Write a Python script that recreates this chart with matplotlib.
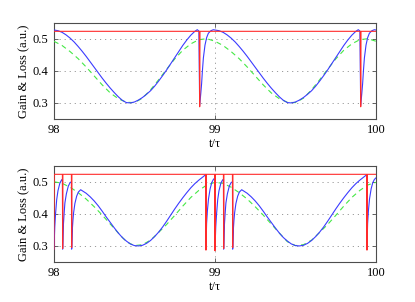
import matplotlib
matplotlib.use("Agg")
import matplotlib.pyplot as plt

plt.rcParams['font.family'] = ['Liberation Serif', 'DejaVu Serif']

# ---------------- data: top panel ----------------
top_gain_t = [98.000, 98.025, 98.050, 98.075, 98.100, 98.125, 98.150, 98.175, 98.200, 98.225,
              98.250, 98.275, 98.300, 98.325, 98.350, 98.375, 98.400, 98.425, 98.450, 98.475,
              98.500, 98.525, 98.550, 98.575, 98.600, 98.625, 98.650, 98.675, 98.700, 98.725,
              98.750, 98.775, 98.800, 98.825, 98.850, 98.875, 98.890, 98.900, 98.905, 98.912,
              98.917, 98.922, 98.928, 98.938, 98.948, 98.959, 98.975, 98.990,
              99.000, 99.025, 99.050, 99.075, 99.100, 99.125, 99.150, 99.175, 99.200, 99.225,
              99.250, 99.275, 99.300, 99.325, 99.350, 99.375, 99.400, 99.425, 99.450, 99.475,
              99.500, 99.525, 99.550, 99.575, 99.600, 99.625, 99.650, 99.675, 99.700, 99.725,
              99.750, 99.775, 99.800, 99.825, 99.850, 99.875, 99.890, 99.900, 99.905, 99.912,
              99.917, 99.922, 99.928, 99.938, 99.948, 99.959, 99.975, 99.990, 100.000]
top_gain = [0.527, 0.525, 0.520, 0.512, 0.502, 0.490, 0.476, 0.461, 0.445, 0.428,
            0.411, 0.394, 0.377, 0.361, 0.346, 0.332, 0.319, 0.308, 0.301, 0.300,
            0.303, 0.309, 0.317, 0.327, 0.338, 0.352, 0.368, 0.385, 0.403, 0.422,
            0.441, 0.460, 0.479, 0.496, 0.511, 0.523, 0.528, 0.524, 0.292, 0.330,
            0.360, 0.400, 0.440, 0.480, 0.503, 0.517, 0.525, 0.528,
            0.527, 0.525, 0.520, 0.512, 0.502, 0.490, 0.476, 0.461, 0.445, 0.428,
            0.411, 0.394, 0.377, 0.361, 0.346, 0.332, 0.319, 0.308, 0.301, 0.300,
            0.303, 0.309, 0.317, 0.327, 0.338, 0.352, 0.368, 0.385, 0.403, 0.422,
            0.441, 0.460, 0.479, 0.496, 0.511, 0.523, 0.528, 0.524, 0.292, 0.330,
            0.360, 0.400, 0.440, 0.480, 0.503, 0.517, 0.525, 0.528, 0.527]

top_loss_t = [98.00, 98.05, 98.10, 98.15, 98.20, 98.25, 98.30, 98.35, 98.40, 98.45,
              98.50, 98.55, 98.60, 98.65, 98.70, 98.75, 98.80, 98.85, 98.90, 98.95,
              99.00, 99.05, 99.10, 99.15, 99.20, 99.25, 99.30, 99.35, 99.40, 99.45,
              99.50, 99.55, 99.60, 99.65, 99.70, 99.75, 99.80, 99.85, 99.90, 99.95, 100.00]
top_loss = [0.492, 0.479, 0.460, 0.438, 0.412, 0.384, 0.356, 0.331, 0.313, 0.302,
            0.301, 0.315, 0.341, 0.372, 0.405, 0.437, 0.464, 0.484, 0.497, 0.500,
            0.492, 0.479, 0.460, 0.438, 0.412, 0.384, 0.356, 0.331, 0.313, 0.302,
            0.301, 0.315, 0.341, 0.372, 0.405, 0.437, 0.464, 0.484, 0.497, 0.500, 0.492]

top_pulse_t = [98.000, 98.903, 98.905, 98.907, 99.903, 99.905, 99.907, 100.000]
top_pulse = [0.523, 0.523, 0.288, 0.523, 0.523, 0.288, 0.523, 0.523]

# ---------------- data: bottom panel ----------------
bot_gain_t = [98.000, 98.005, 98.010, 98.017, 98.025, 98.037, 98.047, 98.053, 98.054, 98.058,
              98.063, 98.068, 98.077, 98.089, 98.100, 98.109, 98.110, 98.114, 98.118, 98.122,
              98.130, 98.141, 98.152, 98.166, 98.182, 98.200, 98.225, 98.250, 98.275, 98.300,
              98.325, 98.350, 98.375, 98.400, 98.425, 98.450, 98.475, 98.500, 98.525, 98.550,
              98.575, 98.600, 98.625, 98.650, 98.675, 98.700, 98.725, 98.750, 98.775, 98.800,
              98.825, 98.850, 98.875, 98.900, 98.925, 98.943, 98.944, 98.948, 98.953, 98.960,
              98.970, 98.980, 98.990, 98.998,
              99.000, 99.005, 99.010, 99.017, 99.025, 99.037, 99.047, 99.053, 99.054, 99.058,
              99.063, 99.068, 99.077, 99.089, 99.100, 99.109, 99.110, 99.114, 99.118, 99.122,
              99.130, 99.141, 99.152, 99.166, 99.182, 99.200, 99.225, 99.250, 99.275, 99.300,
              99.325, 99.350, 99.375, 99.400, 99.425, 99.450, 99.475, 99.500, 99.525, 99.550,
              99.575, 99.600, 99.625, 99.650, 99.675, 99.700, 99.725, 99.750, 99.775, 99.800,
              99.825, 99.850, 99.875, 99.900, 99.925, 99.943, 99.944, 99.948, 99.953, 99.960,
              99.970, 99.980, 99.990, 100.000]
bot_gain = [0.290, 0.360, 0.400, 0.444, 0.472, 0.496, 0.505, 0.508, 0.290, 0.360,
            0.400, 0.434, 0.462, 0.486, 0.497, 0.500, 0.290, 0.350, 0.380, 0.403,
            0.432, 0.455, 0.468, 0.475, 0.470, 0.464, 0.453, 0.440, 0.425, 0.408,
            0.390, 0.373, 0.356, 0.340, 0.326, 0.315, 0.306, 0.301, 0.300, 0.302,
            0.308, 0.317, 0.329, 0.343, 0.359, 0.377, 0.396, 0.415, 0.433, 0.450,
            0.466, 0.481, 0.494, 0.505, 0.515, 0.522, 0.290, 0.370, 0.410, 0.447,
            0.478, 0.497, 0.507, 0.511,
            0.290, 0.360, 0.400, 0.444, 0.472, 0.496, 0.505, 0.508, 0.290, 0.360,
            0.400, 0.434, 0.462, 0.486, 0.497, 0.500, 0.290, 0.350, 0.380, 0.403,
            0.432, 0.455, 0.468, 0.475, 0.470, 0.464, 0.453, 0.440, 0.425, 0.408,
            0.390, 0.373, 0.356, 0.340, 0.326, 0.315, 0.306, 0.301, 0.300, 0.302,
            0.308, 0.317, 0.329, 0.343, 0.359, 0.377, 0.396, 0.415, 0.433, 0.450,
            0.466, 0.481, 0.494, 0.505, 0.515, 0.522, 0.290, 0.370, 0.410, 0.447,
            0.478, 0.497, 0.507, 0.512]

bot_loss_t = top_loss_t
bot_loss = [0.500, 0.495, 0.483, 0.466, 0.446, 0.422, 0.396, 0.368, 0.340, 0.313,
            0.301, 0.304, 0.318, 0.342, 0.367, 0.395, 0.424, 0.451, 0.473, 0.490,
            0.498, 0.495, 0.483, 0.466, 0.446, 0.422, 0.396, 0.368, 0.340, 0.313,
            0.301, 0.304, 0.318, 0.342, 0.367, 0.395, 0.424, 0.451, 0.473, 0.490, 0.498]

bot_pulse_t = [98.000, 98.0015, 98.0525, 98.054, 98.0555, 98.1085, 98.110, 98.1115,
               98.9425, 98.944, 98.9455, 98.9985, 99.000, 99.0015, 99.0525, 99.054, 99.0555,
               99.1085, 99.110, 99.1115, 99.9425, 99.944, 99.9455, 100.000]
bot_pulse = [0.290, 0.523, 0.523, 0.292, 0.523, 0.523, 0.295, 0.523,
             0.523, 0.287, 0.523, 0.523, 0.285, 0.523, 0.523, 0.292, 0.523,
             0.523, 0.295, 0.523, 0.523, 0.287, 0.523, 0.523]

xticks = [98, 99, 100]
xticklabels = ['98', '99', '100']
yticks = [0.3, 0.4, 0.5]
yticklabels = ['0.3', '0.4', '0.5']

BLUE = '#3b3bff'
GREEN = '#45e845'
RED = '#ff2b2b'
FRAME = '#4d4d4d'

fig = plt.figure(figsize=(4.15, 3.02), dpi=100)
ax1 = fig.add_axes([0.130, 0.606, 0.776, 0.319])
ax2 = fig.add_axes([0.130, 0.1325, 0.776, 0.319])

panels = [
    (ax1, top_gain_t, top_gain, top_loss_t, top_loss, top_pulse_t, top_pulse),
    (ax2, bot_gain_t, bot_gain, bot_loss_t, bot_loss, bot_pulse_t, bot_pulse),
]

for ax, gt, g, lt, l, pt, p in panels:
    ax.plot(lt, l, color=GREEN, lw=0.8, dashes=(4.5, 3.5), zorder=3)
    ax.plot(gt, g, color=BLUE, lw=0.8, zorder=4)
    ax.plot(pt, p, color=RED, lw=0.8, zorder=5)
    ax.set_xlim(98, 100)
    ax.set_ylim(0.25, 0.55)
    ax.set_xticks(xticks)
    ax.set_xticklabels(xticklabels)
    ax.set_yticks(yticks)
    ax.set_yticklabels(yticklabels)
    ax.grid(True, linestyle=(0, (1.2, 4.0)), color='#9a9a9a', lw=0.7)
    ax.set_axisbelow(True)
    ax.tick_params(direction='in', length=3, width=0.6, color=FRAME,
                   top=True, right=True, labelsize=9)
    ax.tick_params(axis='x', pad=3.5)
    ax.tick_params(axis='y', pad=4)
    for s in ax.spines.values():
        s.set_color(FRAME)
        s.set_linewidth(0.8)
    ax.set_xlabel('t/\u03c4', fontsize=9, labelpad=1.5)
    ax.set_ylabel('Gain & Loss (a.u.)', fontsize=9, labelpad=2)

fig.savefig('out.png', dpi=100)
